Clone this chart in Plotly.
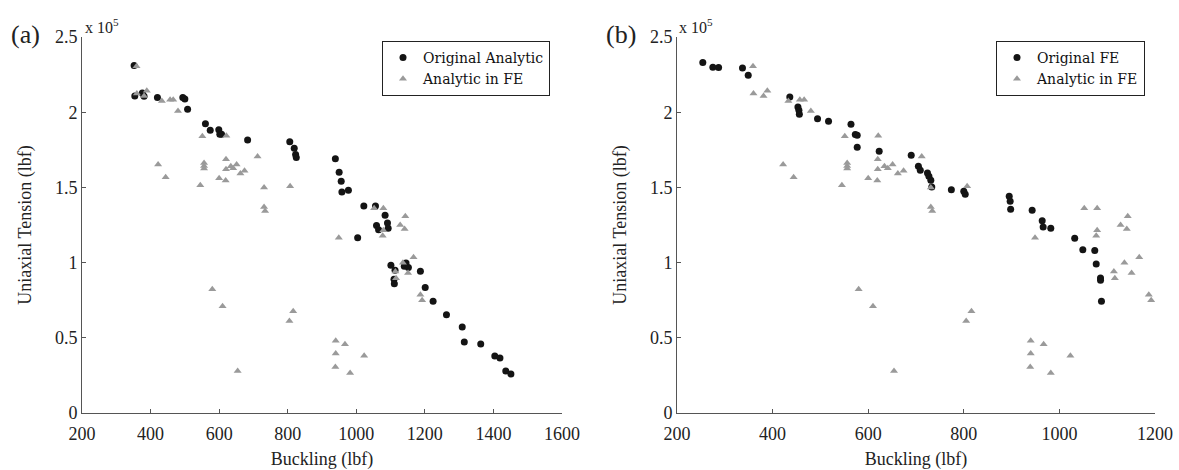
import plotly.graph_objects as go

# (a) original analytic results, tension in units of 1e5 lbf
buckling_a = [352, 354, 376, 381, 420, 494, 500, 508, 560, 574, 599, 602, 607, 683,
              806, 819, 823, 825, 939, 950, 956, 958, 977, 1022, 1056, 1084, 1091, 1093,
              1059, 1065, 1004, 1101, 1113, 1110, 1111, 1145, 1140, 1152, 1187, 1201,
              1224, 1263, 1309, 1315, 1363, 1404, 1419, 1436, 1451]
tension_a = [2.310, 2.108, 2.128, 2.106, 2.097, 2.097, 2.087, 2.019, 1.924, 1.880, 1.884,
             1.853, 1.853, 1.815, 1.804, 1.760, 1.718, 1.698, 1.691, 1.600, 1.541, 1.469,
             1.481, 1.376, 1.376, 1.315, 1.263, 1.228, 1.246, 1.219, 1.166, 0.982, 0.949,
             0.889, 0.860, 0.997, 0.975, 0.967, 0.942, 0.834, 0.743, 0.654, 0.572, 0.472,
             0.459, 0.379, 0.366, 0.279, 0.259]

# (b) original FE results
buckling_b = [254, 275, 287, 337, 349, 436, 453, 455, 456, 494, 517, 564, 573, 577, 577,
              623, 690, 705, 709, 724, 727, 731, 733, 774, 800, 803, 895, 897, 898, 943,
              964, 966, 982, 1032, 1049, 1074, 1077, 1086, 1086, 1088]
tension_b = [2.330, 2.299, 2.297, 2.294, 2.245, 2.101, 2.035, 2.013, 1.986, 1.957, 1.940,
             1.920, 1.851, 1.846, 1.767, 1.740, 1.713, 1.640, 1.614, 1.596, 1.574, 1.547,
             1.503, 1.485, 1.474, 1.454, 1.441, 1.408, 1.354, 1.348, 1.279, 1.237, 1.228,
             1.162, 1.086, 1.080, 0.991, 0.898, 0.882, 0.743]

# analytic designs evaluated in FE (same in both panels)
buckling_fe = [359, 360, 381, 389, 433, 457, 466, 480, 551, 621, 422, 444, 556, 556, 556,
               545, 620, 620, 600, 619, 634, 641, 651, 662, 674, 712, 731, 731, 734, 807,
               580, 610, 654, 805, 816, 940, 967, 940, 1023, 939, 982, 949, 1052, 1079,
               1143, 1128, 1141, 1079, 1077, 1167, 1136, 1114, 1116, 1151, 1187, 1192]
tension_fe = [2.305, 2.125, 2.108, 2.143, 2.075, 2.083, 2.083, 2.008, 1.840, 1.844, 1.653,
              1.568, 1.662, 1.642, 1.625, 1.514, 1.687, 1.621, 1.561, 1.546, 1.640, 1.627,
              1.653, 1.592, 1.610, 1.705, 1.500, 1.370, 1.343, 1.507, 0.822, 0.709, 0.279,
              0.612, 0.676, 0.481, 0.457, 0.395, 0.381, 0.306, 0.266, 1.166, 1.361, 1.361,
              1.308, 1.250, 1.223, 1.215, 1.179, 1.035, 0.999, 0.940, 0.896, 0.931, 0.787,
              0.749]

serif = "Liberation Serif, Times New Roman, serif"
leg_font = dict(family="DejaVu Serif, serif", size=14, color="#111")
black = "#141414"
grey = "#9a9a9a"

fig = go.Figure()

fig.add_trace(go.Scatter(x=buckling_a, y=tension_a, mode="markers", name="Original Analytic",
                         marker=dict(symbol="circle", size=7, color=black),
                         xaxis="x", yaxis="y", legend="legend"))
fig.add_trace(go.Scatter(x=buckling_fe, y=tension_fe, mode="markers", name="Analytic in FE",
                         marker=dict(symbol="triangle-up", size=7, color=grey),
                         xaxis="x", yaxis="y", legend="legend"))
fig.add_trace(go.Scatter(x=buckling_b, y=tension_b, mode="markers", name="Original FE",
                         marker=dict(symbol="circle", size=7, color=black),
                         xaxis="x2", yaxis="y2", legend="legend2"))
fig.add_trace(go.Scatter(x=buckling_fe, y=tension_fe, mode="markers", name="Analytic in FE",
                         marker=dict(symbol="triangle-up", size=7, color=grey),
                         xaxis="x2", yaxis="y2", legend="legend2"))

axis_style = dict(showline=True, linecolor="#555", linewidth=1, mirror=False,
                  showgrid=False, zeroline=False, ticks="inside", ticklen=4,
                  tickcolor="#555", automargin=False,
                  tickfont=dict(family=serif, size=18, color="#222"))

ydom = [1 - 413 / 470, 1 - 37 / 470]
yticks = [0, 0.5, 1, 1.5, 2, 2.5]
ylabels = ["0", "0.5", "1", "1.5", "2", "2.5"]

fig.update_layout(
    width=1179, height=470,
    margin=dict(l=0, r=0, t=0, b=0, autoexpand=False),
    paper_bgcolor="white", plot_bgcolor="white",
    font=dict(family=serif, color="#222"),
    xaxis=dict(domain=[82 / 1179, 562 / 1179], range=[200, 1600], dtick=200, ticklabelstandoff=4,
               title=dict(text="Buckling (lbf)", font=dict(family=serif, size=18), standoff=12),
               anchor="y", **axis_style),
    yaxis=dict(domain=ydom, range=[0, 2.5], tickvals=yticks, ticktext=ylabels,
               title=dict(text="Uniaxial Tension (lbf)", font=dict(family=serif, size=18), standoff=18),
               anchor="x", **axis_style),
    xaxis2=dict(domain=[677 / 1179, 1155 / 1179], range=[200, 1200], dtick=200, ticklabelstandoff=4,
                title=dict(text="Buckling (lbf)", font=dict(family=serif, size=18), standoff=12),
                anchor="y2", **axis_style),
    yaxis2=dict(domain=ydom, range=[0, 2.5], tickvals=yticks, ticktext=ylabels,
                title=dict(text="Uniaxial Tension (lbf)", font=dict(family=serif, size=18), standoff=18),
                anchor="x2", **axis_style),
    legend=dict(x=382 / 1179, y=1 - 41 / 470, xanchor="left", yanchor="top",
                bordercolor="#222", borderwidth=1, bgcolor="white", font=leg_font,
                tracegroupgap=0),
    legend2=dict(x=996 / 1179, y=1 - 41 / 470, xanchor="left", yanchor="top",
                 bordercolor="#222", borderwidth=1, bgcolor="white", font=leg_font,
                 tracegroupgap=0),
)

# panel labels and axis multipliers
for xpos, label in [(25, "(a)"), (621, "(b)")]:
    fig.add_annotation(x=xpos / 1179, y=1 - 34 / 470, xref="paper", yref="paper",
                       xanchor="center", yanchor="middle",
                       text=label, showarrow=False, font=dict(family=serif, size=26, color="#222"))
for xpos in [83, 677]:
    fig.add_annotation(x=xpos / 1179, y=1 - 26 / 470, xref="paper", yref="paper",
                       xanchor="left", yanchor="middle", text="x 10<sup>5</sup>", showarrow=False,
                       font=dict(family=serif, size=16, color="#222"))

# page body has a default 8px margin; drop it so the figure sits at the window origin
fig.write_html("out.html", config={"displayModeBar": False},
               post_script="document.body.style.margin='0';")
